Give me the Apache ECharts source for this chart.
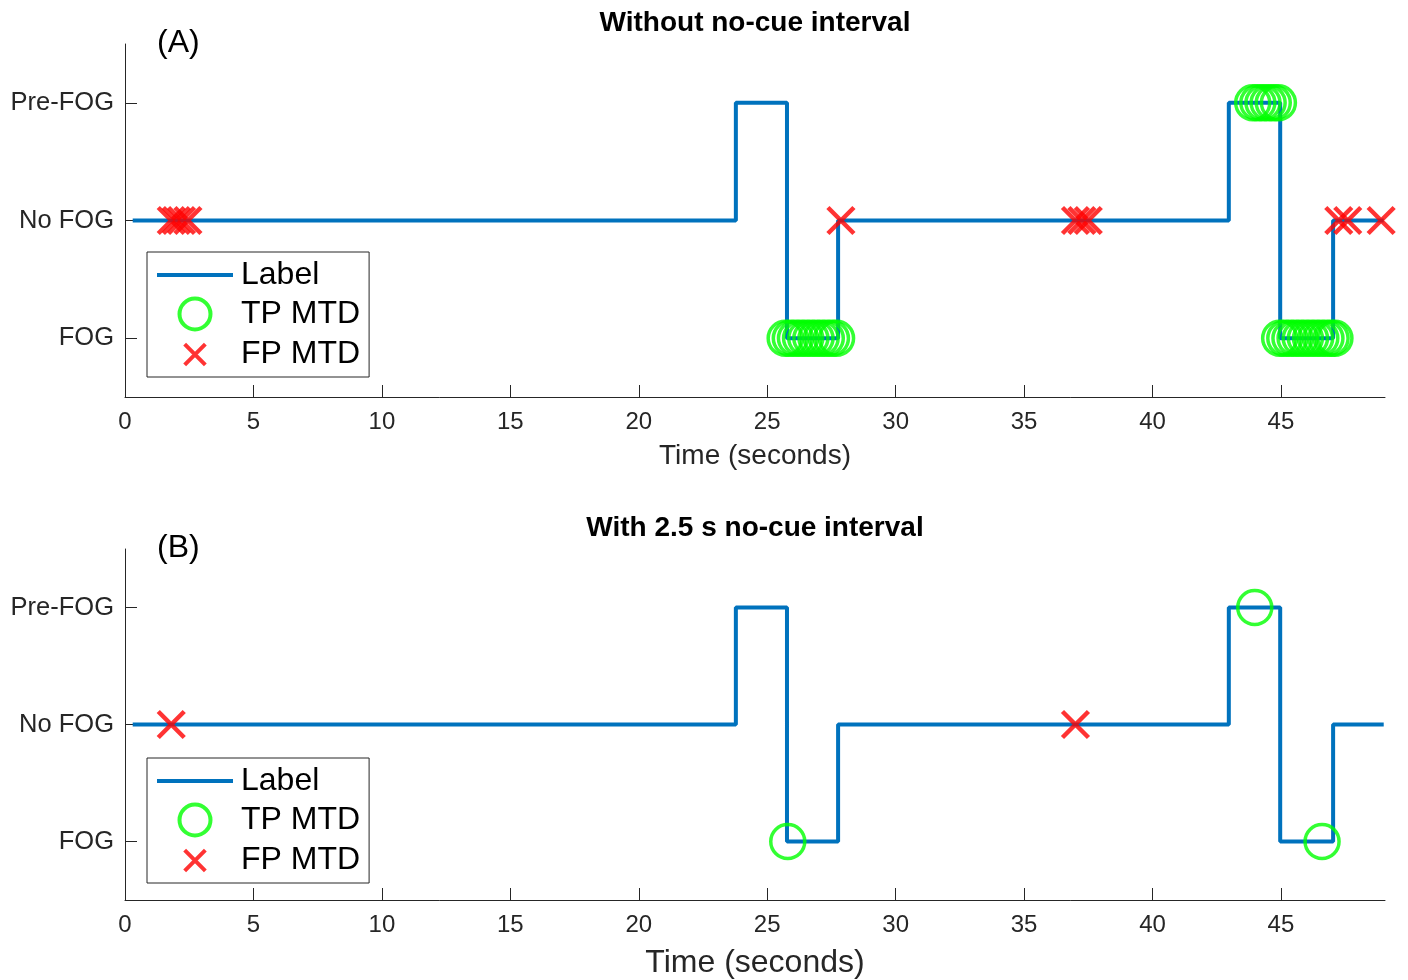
<!DOCTYPE html>
<html>
<head>
<meta charset="utf-8">
<script src="https://cdn.jsdelivr.net/npm/echarts@6/dist/echarts.min.js"></script>
<style>
html,body{margin:0;padding:0;background:#fff;}
#chart{width:1408px;height:980px;}
</style>
</head>
<body>
<div id="chart"></div>
<script>
// ---- data ----
const xTicks = [0, 5, 10, 15, 20, 25, 30, 35, 40, 45];
const yTickLabels = ['FOG', 'No FOG', 'Pre-FOG']; // values 0,1,2
const panelTitles = ['Without no-cue interval', 'With 2.5 s no-cue interval'];
const panelTags = ['(A)', '(B)'];

// label step signal (time of change, state held from that time)
const labelTimes  = [0.3, 23.78, 25.77, 27.76, 42.97, 44.97, 47.03, 49.0];
const labelStates = [1,   2,     0,     1,     2,     0,     1,     1];

// Panel A: true positive MTD
const tpATimes  = [25.7, 25.9, 26.1, 26.3, 26.5, 26.7, 26.9, 27.1, 27.3, 27.5, 27.7,
                   43.9, 44.1, 44.3, 44.5, 44.7, 44.9,
                   44.95, 45.15, 45.35, 45.55, 45.75, 45.95, 46.15, 46.35, 46.55, 46.75, 46.95, 47.1];
const tpAStates = [0, 0, 0, 0, 0, 0, 0, 0, 0, 0, 0,
                   2, 2, 2, 2, 2, 2,
                   0, 0, 0, 0, 0, 0, 0, 0, 0, 0, 0, 0];
// Panel A: false positive MTD
const fpATimes  = [1.8, 2.0, 2.2, 2.45, 27.87, 37.0, 37.25, 37.5, 47.25, 47.6, 48.9];
const fpAStates = [1, 1, 1, 1, 1, 1, 1, 1, 1, 1, 1];

// Panel B
const tpBTimes  = [25.8, 43.98, 46.6];
const tpBStates = [0, 2, 0];
const fpBTimes  = [1.8, 37.0];
const fpBStates = [1, 1];

const zip = (a, b) => a.map((v, i) => [v, b[i]]);

// ---- styles ----
const FONT = '"Liberation Sans", Arial, sans-serif';
const AX = '#262626';
const BLUE = '#0072BD';
const GREEN = '#00FF00';
const RED = '#FF0000';
const XPATH = 'path://M0 0L10 10M10 0L0 10';

const grids = [
  {left: 125, top: 44, width: 1260, height: 353},
  {left: 125, top: 549, width: 1260, height: 353}
];
const nameSizes = [28, 32];

function xAxisFor(i) {
  return {
    type: 'value', gridIndex: i, min: 0, max: 49.05,
    name: 'Time (seconds)', nameLocation: 'middle', nameGap: i === 0 ? 45 : 47,
    nameTextStyle: {fontSize: nameSizes[i], color: AX, fontFamily: FONT},
    axisLine: {show: true, onZero: false, lineStyle: {color: AX, width: 1}},
    axisTick: {show: true, inside: true, length: 12, customValues: xTicks, lineStyle: {color: AX}},
    axisLabel: {customValues: xTicks, fontSize: 24, margin: 13, color: AX, fontFamily: FONT},
    splitLine: {show: false}
  };
}
function yAxisFor(i) {
  return {
    type: 'value', gridIndex: i, min: -0.5, max: 2.5,
    axisLine: {show: true, onZero: false, lineStyle: {color: AX, width: 1}},
    axisTick: {show: true, inside: true, length: 12, customValues: [0, 1, 2], lineStyle: {color: AX}},
    axisLabel: {customValues: [0, 1, 2], fontSize: 25.5, margin: 11, color: AX, fontFamily: FONT,
      formatter: v => yTickLabels[Math.round(v)]},
    splitLine: {show: false}
  };
}
function labelSeries(i) {
  return {type: 'line', name: 'Label', xAxisIndex: i, yAxisIndex: i, step: 'end',
    symbol: 'none', clip: false, data: zip(labelTimes, labelStates),
    lineStyle: {color: BLUE, width: 4}, itemStyle: {color: BLUE}, z: 2};
}
function tpSeries(i, t, s) {
  return {type: 'scatter', name: 'TP MTD', xAxisIndex: i, yAxisIndex: i, clip: false,
    symbol: 'circle', symbolSize: 34, symbolKeepAspect: true, data: zip(t, s),
    itemStyle: {color: 'rgba(0,0,0,0)', borderColor: GREEN, borderWidth: 3.5}, z: 3};
}
function fpSeries(i, t, s) {
  return {type: 'scatter', name: 'FP MTD', xAxisIndex: i, yAxisIndex: i, clip: false,
    symbol: XPATH, symbolSize: 26, symbolKeepAspect: true, data: zip(t, s),
    itemStyle: {color: 'rgba(0,0,0,0)', borderColor: RED, borderWidth: 4.5}, z: 4};
}
function legendFor(top) {
  return {
    left: 147, top: top, orient: 'vertical',
    data: [
      {name: 'Label', icon: 'path://M0 0L76 0L76 4L0 4Z'},
      {name: 'TP MTD', itemStyle: {color: 'rgba(0,0,0,0)', borderColor: GREEN, borderWidth: 4}},
      {name: 'FP MTD', icon: 'path://M-2.5 -2.5M0 0L10 10M10 0L0 10M12.5 12.5',
        itemStyle: {color: 'rgba(0,0,0,0)', borderColor: RED, borderWidth: 4}}
    ],
    itemWidth: 76, itemHeight: 31, itemGap: 5.5, padding: [7, 9, 5, 10],
    borderColor: AX, borderWidth: 1, backgroundColor: '#fff', selectedMode: false,
    textStyle: {fontSize: 32, lineHeight: 32, color: '#000', fontFamily: FONT, padding: [0, 0, 0, 3]}
  };
}

const graphics = [];
[0, 1].forEach(i => {
  const top = grids[i].top;
  graphics.push({type: 'text', x: 755, y: top - 21, style: {text: panelTitles[i],
    font: 'bold 28px ' + FONT, fill: '#000', textAlign: 'center', textVerticalAlign: 'middle'}});
  graphics.push({type: 'text', x: 157, y: top - 1, style: {text: panelTags[i],
    font: '32px ' + FONT, fill: '#000', textAlign: 'left', textVerticalAlign: 'middle'}});
});

const chart = echarts.init(document.getElementById('chart'), null, {renderer: 'canvas'});
chart.setOption({
  animation: false,
  backgroundColor: '#fff',
  grid: grids,
  xAxis: [xAxisFor(0), xAxisFor(1)],
  yAxis: [yAxisFor(0), yAxisFor(1)],
  legend: [legendFor(252), legendFor(758)],
  graphic: graphics,
  series: [
    labelSeries(0), tpSeries(0, tpATimes, tpAStates), fpSeries(0, fpATimes, fpAStates),
    labelSeries(1), tpSeries(1, tpBTimes, tpBStates), fpSeries(1, fpBTimes, fpBStates)
  ]
});
</script>
</body>
</html>
